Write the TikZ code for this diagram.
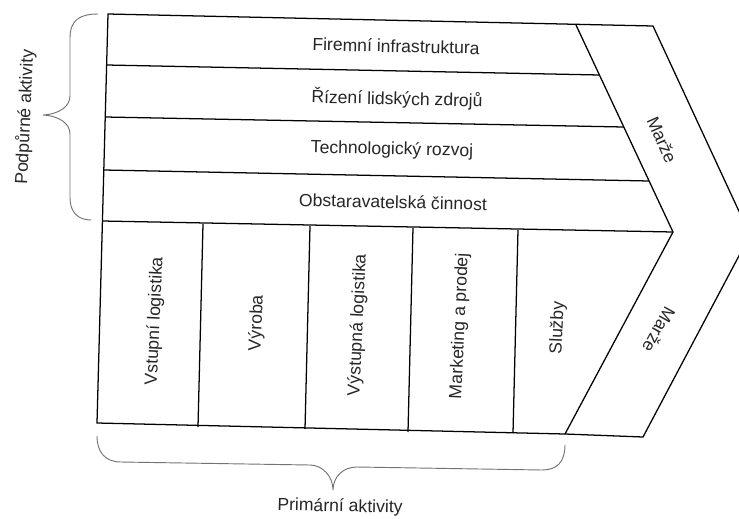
\documentclass[tikz,border=0pt]{standalone}
\usepackage{fontspec}
\setmainfont{Liberation Sans}
\begin{document}
\begin{tikzpicture}[x=0.75pt,y=-0.75pt,
  frame/.style={line width=0.95pt, line join=miter},
  brace/.style={line width=0.7pt, draw=black!55, line cap=round},
  lbl/.style={font=\fontsize{13.2}{16}\selectfont, inner sep=0pt, text=black!85, rotate=-1.3},
  vlbl/.style={lbl, rotate=88.7}]
\useasboundingbox (0,0) rectangle (739,518);

% corner points of the value chain
\coordinate (TL) at (108,14);
\coordinate (TI) at (576,25);
\coordinate (TO) at (653,26);
\coordinate (AO) at (750,235);
\coordinate (AI) at (673,232);
\coordinate (BO) at (643,437);
\coordinate (BI) at (565,434);
\coordinate (BL) at (97,423);
\coordinate (ML) at (102.4,221);

% left ends and right ends of the support rows
\coordinate (L1) at (106.6,65);  \coordinate (R1) at (599.4,75);
\coordinate (L2) at (105.2,117); \coordinate (R2) at (623.8,127);
\coordinate (L3) at (103.8,170); \coordinate (R3) at (649.1,181);

% column dividers of the primary activities
\coordinate (D1t) at (203,224); \coordinate (D1b) at (198,427);
\coordinate (D2t) at (310,226); \coordinate (D2b) at (305,429);
\coordinate (D3t) at (413,228); \coordinate (D3b) at (408,432);
\coordinate (D4t) at (518,230); \coordinate (D4b) at (513,433);

% outline and margin band
\draw[frame] (TL) -- (TO) -- (AO) -- (BO) -- (BI) -- (BL) -- cycle;
\draw[frame] (TI) -- (AI) -- (BI);
\draw[frame] (ML) -- (AI);
\draw[frame] (L1) -- (R1);
\draw[frame] (L2) -- (R2);
\draw[frame] (L3) -- (R3);
\draw[frame] (D1t) -- (D1b);
\draw[frame] (D2t) -- (D2b);
\draw[frame] (D3t) -- (D3b);
\draw[frame] (D4t) -- (D4b);

% support activities
\node[lbl] (s1) at (396,46) {Firemní infrastruktura};
\node[lbl] (s2) at (397,99) {Řízení lidských zdrojů};
\node[lbl] (s3) at (392,150) {Technologický rozvoj};
\node[lbl] (s4) at (393,202) {Obstaravatelská činnost};

% primary activities
\node[vlbl] (p1) at (155,321) {Vstupní logistika};
\node[vlbl] (p2) at (257,323) {Výroba};
\node[vlbl] (p3) at (358,325) {Výstupná logistika};
\node[vlbl] (p4) at (460,326) {Marketing a prodej};
\node[vlbl] (p5) at (558,328) {Služby};

% margin labels
\node[lbl, rotate=-65] (m1) at (662,140) {Marže};
\node[lbl, rotate=-118] (m2) at (659,330) {Marže};

% braces
\draw[brace] (98,14) .. controls (80,14) and (70,20) .. (70,38)
  -- (70,96) .. controls (70,106) and (60,114) .. (43,115)
  .. controls (60,116) and (70,124) .. (70,134)
  -- (70,198) .. controls (70,212) and (78,220) .. (91,220);
\draw[brace] (97,436) .. controls (97,452) and (105,462) .. (121,462)
  -- (310,465) .. controls (322,465) and (333,476) .. (333,490)
  .. controls (333,477) and (343,467) .. (357,467)
  -- (542,470) .. controls (557,470) and (565,462) .. (565,445);

\node[vlbl] (sup) at (25,117) {Podpůrné aktivity};
\node[lbl] (pri) at (340,507) {Primární aktivity};
\end{tikzpicture}
\end{document}
